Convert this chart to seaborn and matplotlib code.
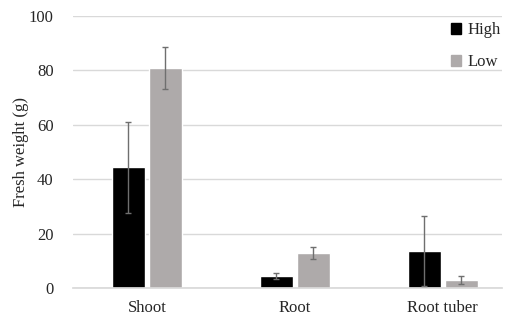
import numpy as np
import pandas as pd
import matplotlib.pyplot as plt
import seaborn as sns

sns.set_theme(style='white')
plt.rcParams['font.family'] = ['Liberation Serif', 'DejaVu Serif']

# Data
organs = ['Shoot', 'Root', 'Root tuber']
levels = ['High', 'Low']
high_mean = [44.3, 4.4, 13.6]
high_err = [16.8, 1.0, 12.8]
low_mean = [80.8, 12.9, 2.9]
low_err = [7.8, 2.1, 1.4]

df = pd.DataFrame({
    'organ': organs * 2,
    'level': ['High'] * 3 + ['Low'] * 3,
    'weight': high_mean + low_mean,
})
errs = {'High': high_err, 'Low': low_err}
palette = {'High': '#000000', 'Low': '#aeaaaa'}

fig = plt.figure(figsize=(5.07, 3.21), dpi=100)
ax = fig.add_axes([0.144, 0.103, 0.846, 0.847])

sns.barplot(data=df, x='organ', y='weight', hue='level', order=organs,
            hue_order=levels, palette=palette, errorbar=None, width=0.5,
            gap=0.12, saturation=1, legend=False, ax=ax)

for lvl, cont in zip(levels, ax.containers):
    xs = [b.get_x() + b.get_width() / 2 for b in cont]
    ys = [b.get_height() for b in cont]
    ax.errorbar(xs, ys, yerr=errs[lvl], fmt='none', ecolor='#6f6f6f',
                elinewidth=1, capsize=2.5, capthick=1, zorder=5)

ax.set_ylim(0, 100)
ax.set_yticks(range(0, 101, 20))
ax.set_xlim(-0.5, 2.40)
ax.yaxis.grid(True, color='#d9d9d9', linewidth=1)
ax.set_axisbelow(True)
for s in ['top', 'right', 'left']:
    ax.spines[s].set_visible(False)
ax.spines['bottom'].set_color('#d9d9d9')
ax.tick_params(axis='both', length=0, labelsize=12, colors='#262626')
ax.tick_params(axis='y', pad=14)
ax.tick_params(axis='x', pad=9)
ax.set_xlabel('')
ax.set_ylabel('Fresh weight (g)', fontsize=12, color='#262626', labelpad=0)

handles = [plt.Rectangle((0, 0), 1, 1, color=palette[l]) for l in levels]
ax.legend(handles, levels, loc='upper right', bbox_to_anchor=(1.025, 1.02),
          frameon=False, fontsize=12, handlelength=0.6, handleheight=0.6,
          handletextpad=0.4, labelspacing=0.95, borderaxespad=0.3)

fig.savefig('out.png', dpi=100)
